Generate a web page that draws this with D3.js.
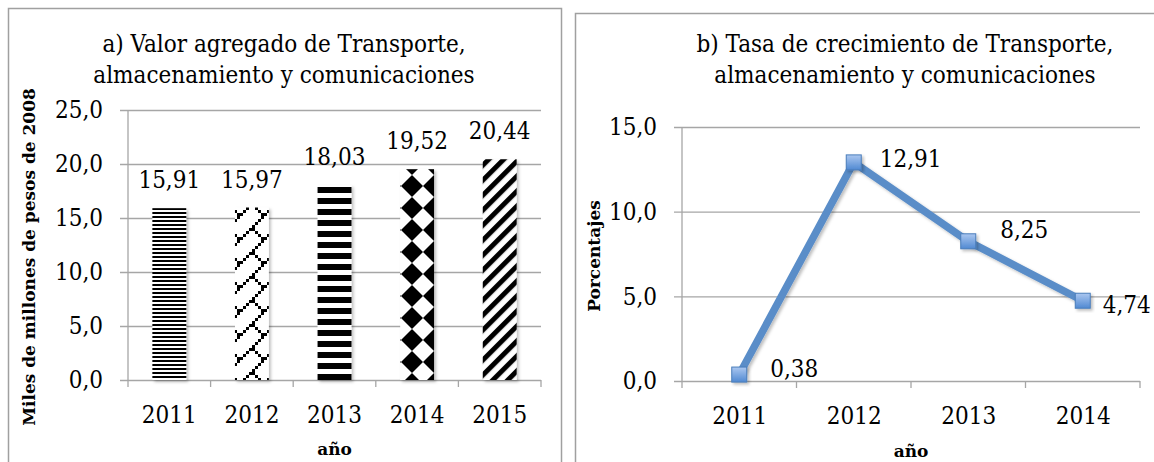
<!DOCTYPE html>
<html lang="es">
<head>
<meta charset="UTF-8">
<title>Transporte, almacenamiento y comunicaciones</title>
<script src="https://d3js.org/d3.v7.min.js"></script>
<style>
    body { margin: 0; background: #fff; }
    svg text { font-family: "DejaVu Serif Condensed", "DejaVu Serif", serif; font-stretch: condensed; fill: #000; }
    svg text.axis-title { font-family: "DejaVu Serif", serif; font-stretch: normal; font-weight: bold; font-size: 17px; }
    .grid line, .axis-line, .cat-tick { stroke: #a6a6a6; stroke-width: 1.3; }
    .panel { fill: none; stroke: #a0a0a0; stroke-width: 1.5; }
</style>
</head>
<body>
<svg id="chart" width="1154" height="462"></svg>
<script>
    // a) valor agregado, miles de millones de pesos de 2008
    const years = ["2011", "2012", "2013", "2014", "2015"];
    const valorAgregado = [15.91, 15.97, 18.03, 19.52, 20.44];
    const yTicksA = [0, 5, 10, 15, 20, 25];

    // b) tasa de crecimiento, porcentajes
    const growthYears = ["2011", "2012", "2013", "2014"];
    const tasaCrecimiento = [0.38, 12.91, 8.25, 4.74];
    const yTicksB = [0, 5, 10, 15];

    // label nudges for the line chart (dx, dy from the marker)
    const labelShift = [[31, 2], [26, 5], [32, -3], [20, 12]];

    const comma = f => v => d3.format(f)(v).replace(".", ",");
    const fmt1 = comma(".1f"), fmt2 = comma(".2f");
    const fs = 24;

    const svg = d3.select("#chart");
    const defs = svg.append("defs");

    // fill patterns, one per bar
    function pattern(id, w, h) {
        const p = defs.append("pattern").attr("id", id)
            .attr("patternUnits", "userSpaceOnUse")
            .attr("width", w).attr("height", h);
        p.append("rect").attr("width", w).attr("height", h).attr("fill", "#fff");
        return p;
    }
    pattern("p2011", 8, 4).append("rect").attr("width", 8).attr("height", 2).attr("fill", "#000");

    const brick = [0x01, 0x02, 0x04, 0x08, 0x18, 0x24, 0x42, 0x81];
    const pb = pattern("p2012", 24, 24);
    brick.forEach((row, r) => {
        for (let c = 0; c < 8; c++) {
            if (row & (0x80 >> c)) {
                pb.append("rect").attr("x", c * 3).attr("y", r * 3)
                    .attr("width", 3).attr("height", 3).attr("fill", "#000");
            }
        }
    });

    pattern("p2013", 8, 11).append("rect").attr("width", 8).attr("height", 6).attr("fill", "#000");

    pattern("p2014", 22, 22).attr("x", 401).attr("y", 307)
        .append("polygon").attr("points", "11,0 22,11 11,22 0,11").attr("fill", "#000");

    pattern("p2015", 10.6, 10.6).attr("patternTransform", "rotate(45)")
        .append("rect").attr("width", 5).attr("height", 10.6).attr("fill", "#000");

    const shadow = defs.append("filter").attr("id", "shadow")
        .attr("x", "-30%").attr("y", "-30%").attr("width", "160%").attr("height", "160%");
    shadow.append("feDropShadow").attr("dx", 2).attr("dy", 2).attr("stdDeviation", 1.5)
        .attr("flood-color", "#000").attr("flood-opacity", 0.25);

    const mk = defs.append("linearGradient").attr("id", "mk")
        .attr("x1", 0).attr("y1", 0).attr("x2", 0).attr("y2", 1);
    mk.append("stop").attr("offset", "0%").attr("stop-color", "#abc7f0");
    mk.append("stop").attr("offset", "100%").attr("stop-color", "#5089d2");

    // panel frames
    svg.append("rect").attr("class", "panel").attr("x", 8.5).attr("y", 8.5).attr("width", 553).attr("height", 500);
    svg.append("rect").attr("class", "panel").attr("x", 575.5).attr("y", 13.5).attr("width", 620).attr("height", 500);

    function gridAxis(y, ticks, x0, x1) {
        const g = svg.append("g").attr("class", "grid")
            .attr("transform", `translate(${x0},0)`)
            .call(d3.axisLeft(y).tickValues(ticks).tickSize(-(x1 - x0)).tickPadding(25).tickFormat(fmt1))
            .attr("font-family", null).attr("font-size", fs);
        g.select(".domain").remove();
        g.selectAll(".tick line").attr("x1", -8);
        svg.append("line").attr("class", "axis-line")
            .attr("x1", x0).attr("x2", x0).attr("y1", y.range()[1]).attr("y2", y.range()[0]);
    }

    function categoryAxis(x, y0, n, step) {
        const g = svg.append("g").attr("transform", `translate(0,${y0})`)
            .call(d3.axisBottom(x).tickSize(0).tickPadding(26))
            .attr("font-family", null).attr("font-size", fs);
        g.select(".domain").remove();
        svg.selectAll(null).data(d3.range(n + 1)).enter().append("line")
            .attr("class", "cat-tick")
            .attr("x1", i => x.range()[0] + i * step).attr("x2", i => x.range()[0] + i * step)
            .attr("y1", y0).attr("y2", y0 + 7);
    }

    // ---- a) bars ----
    const xA = d3.scaleBand().domain(years).range([128, 541]).paddingInner(0.59).paddingOuter(0.295);
    const yA = d3.scaleLinear().domain([0, 25]).range([380, 110]);

    gridAxis(yA, yTicksA, 128, 541);
    categoryAxis(xA, yA(0), years.length, xA.step());

    svg.append("g").selectAll("rect").data(valorAgregado).enter().append("rect")
        .attr("x", (d, i) => xA(years[i]))
        .attr("y", d => yA(d))
        .attr("width", xA.bandwidth())
        .attr("height", d => yA(0) - yA(d))
        .attr("fill", (d, i) => `url(#p${years[i]})`)
        .attr("filter", "url(#shadow)");

    svg.append("g").selectAll("text").data(valorAgregado).enter().append("text")
        .attr("x", (d, i) => xA(years[i]) + xA.bandwidth() / 2)
        .attr("y", d => yA(d) - 20)
        .attr("text-anchor", "middle").attr("font-size", fs)
        .text(fmt2);

    svg.append("text").attr("x", 284).attr("y", 52).attr("text-anchor", "middle").attr("font-size", fs)
        .text("a) Valor agregado de Transporte,");
    svg.append("text").attr("x", 284).attr("y", 83).attr("text-anchor", "middle").attr("font-size", fs)
        .text("almacenamiento y comunicaciones");
    svg.append("text").attr("class", "axis-title").attr("text-anchor", "middle")
        .attr("transform", "translate(35,257) rotate(-90)")
        .text("Miles de millones de pesos de 2008");
    svg.append("text").attr("class", "axis-title").attr("text-anchor", "middle")
        .attr("x", (xA.range()[0] + xA.range()[1]) / 2).attr("y", 455)
        .text("año");

    // ---- b) line ----
    const xB = d3.scalePoint().domain(growthYears).range([682, 1140]).padding(0.5);
    const yB = d3.scaleLinear().domain([0, 15]).range([381, 127]);

    gridAxis(yB, yTicksB, 682, 1140);
    categoryAxis(xB, yB(0), growthYears.length, xB.step());

    const line = d3.line().x((d, i) => xB(growthYears[i])).y(d => yB(d));
    svg.append("path").datum(tasaCrecimiento)
        .attr("d", line)
        .attr("fill", "none").attr("stroke", "#5a8dc8").attr("stroke-width", 7.5)
        .attr("stroke-linejoin", "round")
        .attr("filter", "url(#shadow)");

    const msize = 15;
    svg.append("g").selectAll("rect").data(tasaCrecimiento).enter().append("rect")
        .attr("x", (d, i) => xB(growthYears[i]) - msize / 2)
        .attr("y", d => yB(d) - msize / 2)
        .attr("width", msize).attr("height", msize)
        .attr("fill", "url(#mk)").attr("stroke", "#4a7ebb").attr("stroke-width", 1)
        .attr("filter", "url(#shadow)");

    svg.append("g").selectAll("text").data(tasaCrecimiento).enter().append("text")
        .attr("x", (d, i) => xB(growthYears[i]) + labelShift[i][0])
        .attr("y", (d, i) => yB(d) + labelShift[i][1])
        .attr("font-size", fs)
        .text(fmt2);

    svg.append("text").attr("x", 905).attr("y", 52).attr("text-anchor", "middle").attr("font-size", fs)
        .text("b) Tasa de crecimiento de Transporte,");
    svg.append("text").attr("x", 905).attr("y", 83).attr("text-anchor", "middle").attr("font-size", fs)
        .text("almacenamiento y comunicaciones");
    svg.append("text").attr("class", "axis-title").attr("text-anchor", "middle")
        .attr("transform", "translate(600,256) rotate(-90)")
        .text("Porcentajes");
    svg.append("text").attr("class", "axis-title").attr("text-anchor", "middle")
        .attr("x", (xB.range()[0] + xB.range()[1]) / 2).attr("y", 457)
        .text("año");
</script>
</body>
</html>
